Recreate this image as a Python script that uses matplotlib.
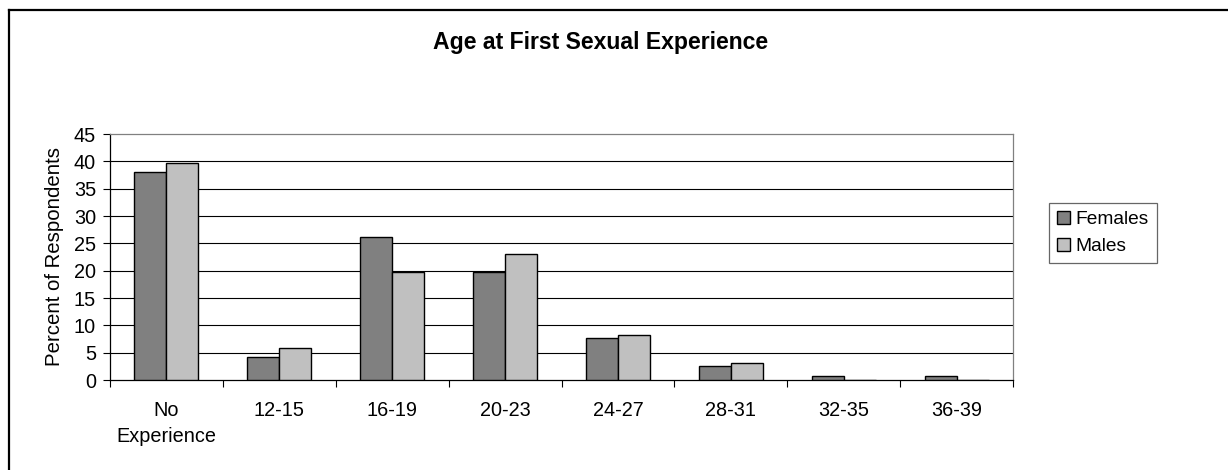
import matplotlib
matplotlib.use("Agg")
import matplotlib.pyplot as plt
from matplotlib.lines import Line2D
import numpy as np

plt.rcParams['font.family'] = ['Liberation Sans', 'DejaVu Sans']

categories = ["No\nExperience", "12-15", "16-19", "20-23", "24-27", "28-31", "32-35", "36-39"]
females = [38.0, 4.2, 26.2, 19.8, 7.7, 2.6, 0.7, 0.7]
males = [39.7, 5.8, 19.7, 23.0, 8.2, 3.2, 0.0, 0.0]
yticks = [0, 5, 10, 15, 20, 25, 30, 35, 40, 45]

fig = plt.figure(figsize=(12.28, 4.70), dpi=100)
ax = fig.add_axes([110/1228, 1 - 380/470, 903/1228, 246/470])

x = np.arange(len(categories)) + 0.5
w = 0.283
ax.bar(x - w/2, females, w, color="#808080", edgecolor="black", linewidth=1.0, label="Females", zorder=3)
ax.bar(x + w/2, males, w, color="#c0c0c0", edgecolor="black", linewidth=1.0, label="Males", zorder=3)

for t in yticks[1:-1]:
    ax.axhline(t, color="black", linewidth=0.8, zorder=1)

ax.set_xlim(0, len(categories))
ax.set_ylim(0, 45)
ax.set_yticks(yticks)
ax.set_xticks(np.arange(len(categories) + 1))
ax.set_xticklabels([])
ax.set_xticks(x, minor=True)
ax.set_xticklabels(categories, minor=True, fontsize=14.3, linespacing=1.45)
ax.tick_params(axis="x", which="minor", length=0, pad=15)
ax.tick_params(axis="x", which="major", length=5, direction="out", width=0.8)
ax.tick_params(axis="y", length=5, direction="out", width=0.8, labelsize=14.3, pad=5)

ax.spines["left"].set_color("black")
ax.spines["bottom"].set_color("black")
ax.spines["top"].set_color("#808080")
ax.spines["right"].set_color("#808080")
for s in ax.spines.values():
    s.set_linewidth(0.9)

ax.set_ylabel("Percent of Respondents", fontsize=14.7, labelpad=7)

fig.text(601/1228, 1 - 43/470, "Age at First Sexual Experience", ha="center", va="center",
         fontsize=16.6, fontweight="bold")

leg = ax.legend(loc="upper left", bbox_to_anchor=(1049/1228, 1 - 203/470), bbox_transform=fig.transFigure,
                fontsize=13.8, frameon=True, fancybox=False, handlelength=0.7, handleheight=0.7,
                handletextpad=0.3, borderpad=0.4, labelspacing=0.5, borderaxespad=0)
leg.get_frame().set_edgecolor("#404040")
leg.get_frame().set_linewidth(0.9)

# outer chart border (right and bottom edges fall outside the picture)
fig.add_artist(Line2D([9/1228, 1], [1 - 10/470, 1 - 10/470], transform=fig.transFigure, color="black", linewidth=1.6))
fig.add_artist(Line2D([9/1228, 9/1228], [0, 1 - 10/470], transform=fig.transFigure, color="black", linewidth=1.6))

fig.savefig("out.png", dpi=100)
